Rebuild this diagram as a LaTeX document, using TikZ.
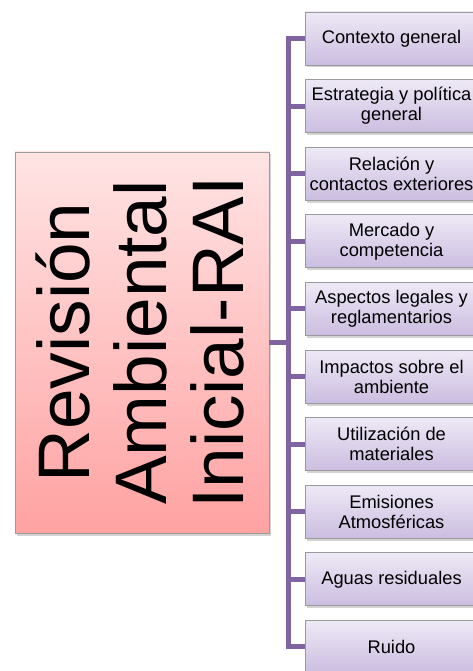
\documentclass[tikz,border=0pt]{standalone}
\usepackage{fontspec}
\setmainfont{Liberation Sans}
\usetikzlibrary{shadows,calc}
\definecolor{conncol}{HTML}{8064A2}
\definecolor{lavtop}{HTML}{EEE9F6}
\definecolor{lavbot}{HTML}{CBBDE0}
\definecolor{pinktop}{HTML}{FFE4E4}
\definecolor{pinkbot}{HTML}{FFA2A2}
\definecolor{edgegray}{HTML}{9A9A9A}
\tikzset{
  itembox/.style={draw=edgegray, line width=0.8pt, top color=lavtop, bottom color=lavbot,
    minimum width=173pt, minimum height=53pt, inner sep=0pt, align=center,
    font=\fontsize{18.3}{20}\selectfont,
    drop shadow={shadow xshift=2pt, shadow yshift=-2.5pt, opacity=0.35}},
  mainbox/.style={draw=edgegray, line width=0.8pt, top color=pinktop, bottom color=pinkbot,
    minimum width=254pt, minimum height=381pt, inner sep=0pt,
    drop shadow={shadow xshift=2pt, shadow yshift=-2.5pt, opacity=0.35}},
  conn/.style={draw=conncol, line width=5pt}
}
\begin{document}
\begin{tikzpicture}[x=1pt,y=-1pt]
\useasboundingbox (0,0) rectangle (473,671);
\clip (0,0) rectangle (473,671);
\node[mainbox] (big) at (142,342.5) {};
\node[rotate=90, align=center, font=\fontsize{73}{77}\selectfont, inner sep=0pt] (bigtext) at (140,342.5) {Revisión\\Ambiental\\Inicial-RAI};
\node[itembox] (b1) at (391.5,38.5) {Contexto general};
\node[itembox] (b2) at (391.5,106.1) {Estrategia y política\\general};
\node[itembox] (b3) at (391.5,173.7) {Relación y\\contactos exteriores};
\node[itembox] (b4) at (391.5,241.3) {Mercado y\\competencia};
\node[itembox] (b5) at (391.5,308.9) {Aspectos legales y\\reglamentarios};
\node[itembox] (b6) at (391.5,376.5) {Impactos sobre el\\ambiente};
\node[itembox] (b7) at (391.5,444.1) {Utilización de\\materiales};
\node[itembox] (b8) at (391.5,511.7) {Emisiones\\Atmosféricas};
\node[itembox] (b9) at (391.5,579.3) {Aguas residuales};
\node[itembox] (b10) at (391.5,646.9) {Ruido};
\coordinate (jn) at ($(big.east)+(19pt,0)$);
\draw[conn] (big.east) -- (jn);
\foreach \i in {1,...,10} {
  \draw[conn] (jn) |- (b\i.west);
}
\end{tikzpicture}
\end{document}
